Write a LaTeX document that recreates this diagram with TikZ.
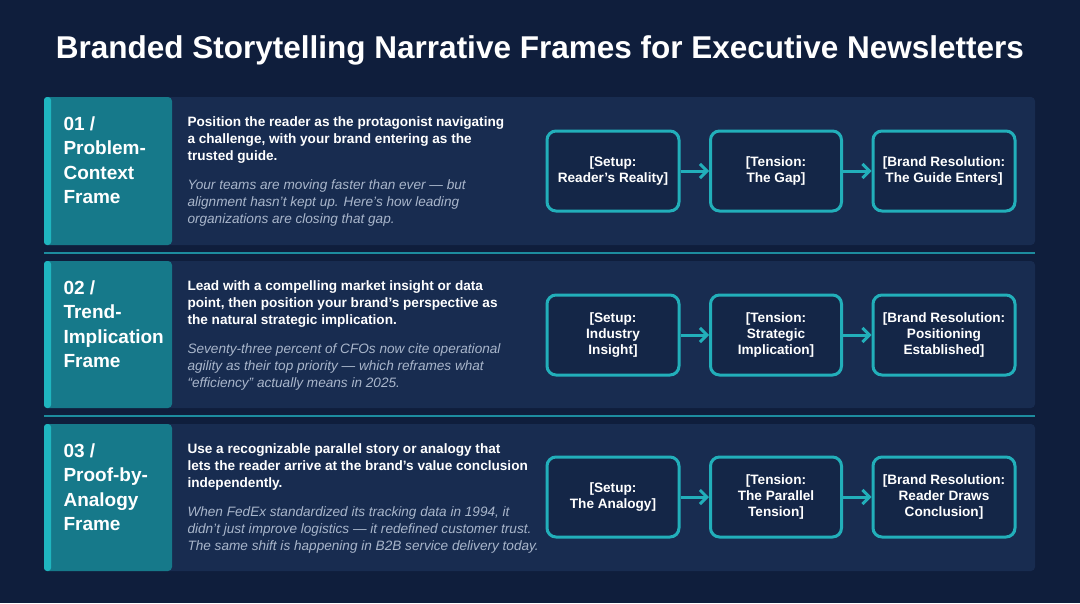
\documentclass[tikz,border=0pt]{standalone}
\usepackage{fontspec}
\setmainfont{Liberation Sans}
\usetikzlibrary{positioning,calc,arrows.meta}
\definecolor{bgnavy}{HTML}{0F1E3C}
\definecolor{panel}{HTML}{182C50}
\definecolor{tabteal}{HTML}{16798A}
\definecolor{edgeteal}{HTML}{1FB5BF}
\definecolor{stepteal}{HTML}{22AFBA}
\definecolor{boxfill}{HTML}{142647}
\definecolor{softtext}{HTML}{A9B6CB}
\tikzset{
  panelbox/.style={fill=panel,rounded corners=4pt},
  tabtitle/.style={anchor=north west,align=left,text=white,font=\fontsize{19}{24.5}\selectfont\bfseries},
  lead/.style={anchor=north west,align=left,text=white,font=\fontsize{13.6}{17}\selectfont\bfseries},
  quote/.style={anchor=north west,align=left,text=softtext,font=\fontsize{13.6}{17}\selectfont\itshape},
  stagebox/.style={draw=stepteal,line width=3pt,fill=boxfill,rounded corners=9pt,minimum height=80pt,align=center,text=white,font=\fontsize{13.6}{16}\selectfont\bfseries},
  flow/.style={draw=stepteal,line width=3pt,-{Straight Barb[length=7pt,width=14pt]}},
  divider/.style={draw=edgeteal!70!panel,line width=1.2pt}
}
\begin{document}
\begin{tikzpicture}[x=1pt,y=-1pt]
  \fill[bgnavy] (0,0) rectangle (1080,603);
  \node[text=white,font=\fontsize{31.5}{36}\selectfont\bfseries] (title) at (540,50) {Branded Storytelling Narrative Frames for Executive Newsletters};
  % row 1
  \fill[panelbox] (44,97) rectangle (1035,245);
  \fill[tabteal,rounded corners=4pt] (44,97) rectangle (172,245);
  \fill[edgeteal,rounded corners=3pt] (44,97) rectangle (51,245);
  \node[tabtitle] (tabA) at (60,113) {01 /\\Problem-\\Context\\Frame};
  \node[lead] (leadA) at (184,113) {Position the reader as the protagonist navigating\\a challenge, with your brand entering as the\\trusted guide.};
  \node[quote] (quoteA) at (184,176) {Your teams are moving faster than ever — but\\alignment hasn’t kept up. Here’s how leading\\organizations are closing that gap.};
  \node[stagebox,minimum width=132pt] (setupA) at (613,171) {[Setup:\\Reader’s Reality]};
  \node[stagebox,minimum width=131pt] (tensionA) at (776,171) {[Tension:\\The Gap]};
  \node[stagebox,minimum width=142pt] (resolveA) at (944,171) {[Brand Resolution:\\The Guide Enters]};
  \draw[flow] (setupA) -- (tensionA);
  \draw[flow] (tensionA) -- (resolveA);
  \draw[divider] (44,253) -- (1035,253);
  % row 2
  \fill[panelbox] (44,261) rectangle (1035,408);
  \fill[tabteal,rounded corners=4pt] (44,261) rectangle (172,408);
  \fill[edgeteal,rounded corners=3pt] (44,261) rectangle (51,408);
  \node[tabtitle] (tabB) at (60,277) {02 /\\Trend-\\Implication\\Frame};
  \node[lead] (leadB) at (184,277) {Lead with a compelling market insight or data\\point, then position your brand’s perspective as\\the natural strategic implication.};
  \node[quote] (quoteB) at (184,340) {Seventy-three percent of CFOs now cite operational\\agility as their top priority — which reframes what\\“efficiency” actually means in 2025.};
  \node[stagebox,minimum width=132pt] (setupB) at (613,335) {[Setup:\\Industry\\Insight]};
  \node[stagebox,minimum width=131pt] (tensionB) at (776,335) {[Tension:\\Strategic\\Implication]};
  \node[stagebox,minimum width=142pt] (resolveB) at (944,335) {[Brand Resolution:\\Positioning\\Established]};
  \draw[flow] (setupB) -- (tensionB);
  \draw[flow] (tensionB) -- (resolveB);
  \draw[divider] (44,416) -- (1035,416);
  % row 3
  \fill[panelbox] (44,424) rectangle (1035,571);
  \fill[tabteal,rounded corners=4pt] (44,424) rectangle (172,571);
  \fill[edgeteal,rounded corners=3pt] (44,424) rectangle (51,571);
  \node[tabtitle] (tabC) at (60,440) {03 /\\Proof-by-\\Analogy\\Frame};
  \node[lead] (leadC) at (184,440) {Use a recognizable parallel story or analogy that\\lets the reader arrive at the brand’s value conclusion\\independently.};
  \node[quote] (quoteC) at (184,503) {When FedEx standardized its tracking data in 1994, it\\didn’t just improve logistics — it redefined customer trust.\\The same shift is happening in B2B service delivery today.};
  \node[stagebox,minimum width=132pt] (setupC) at (613,497) {[Setup:\\The Analogy]};
  \node[stagebox,minimum width=131pt] (tensionC) at (776,497) {[Tension:\\The Parallel\\Tension]};
  \node[stagebox,minimum width=142pt] (resolveC) at (944,497) {[Brand Resolution:\\Reader Draws\\Conclusion]};
  \draw[flow] (setupC) -- (tensionC);
  \draw[flow] (tensionC) -- (resolveC);
\end{tikzpicture}
\end{document}
